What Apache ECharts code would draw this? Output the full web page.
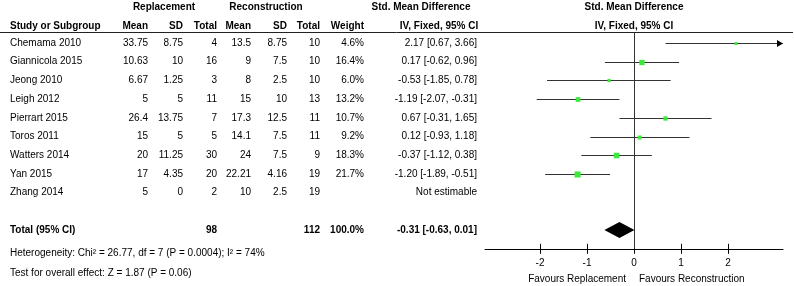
<!DOCTYPE html>
<html><head><meta charset="utf-8">
<script src="https://cdn.jsdelivr.net/npm/echarts@6/dist/echarts.min.js"></script>
<style>html,body{margin:0;padding:0;background:#fff}#c{width:794px;height:286px}</style>
</head><body><div id="c"></div>
<script>
// ---- data ----
const studies = ['Chemama 2010','Giannicola 2015','Jeong 2010','Leigh 2012','Pierrart 2015','Toros 2011','Watters 2014','Yan 2015','Zhang 2014'];
const repMean = [33.75, 10.63, 6.67, 5, 26.4, 15, 20, 17, 5];
const repSD   = [8.75, 10, 1.25, 5, 13.75, 5, 11.25, 4.35, 0];
const repN    = [4, 16, 3, 11, 7, 5, 30, 20, 2];
const recMean = [13.5, 9, 8, 15, 17.3, 14.1, 24, 22.21, 10];
const recSD   = [8.75, 7.5, 2.5, 10, 12.5, 7.5, 7.5, 4.16, 2.5];
const recN    = [10, 10, 10, 13, 11, 11, 9, 19, 19];
const weight  = [4.6, 16.4, 6.0, 13.2, 10.7, 9.2, 18.3, 21.7, null];
const smd     = [2.17, 0.17, -0.53, -1.19, 0.67, 0.12, -0.37, -1.20, null];
const ciLow   = [0.67, -0.62, -1.85, -2.07, -0.31, -0.93, -1.12, -1.89, null];
const ciHigh  = [3.66, 0.96, 0.78, -0.31, 1.65, 1.18, 0.38, -0.51, null];
const totalRepN = 98, totalRecN = 112, totalWeight = 100.0;
const totalSmd = -0.31, totalLow = -0.63, totalHigh = 0.01;
const tickValues = [-2, -1, 0, 1, 2];
const heterogeneityText = 'Heterogeneity: Chi\u00b2 = 26.77, df = 7 (P = 0.0004); I\u00b2 = 74%';
const overallText = 'Test for overall effect: Z = 1.87 (P = 0.06)';

// ---- layout ----
const FONT = '"Liberation Sans", Arial, sans-serif';
const X_MIN = -3.17, X_MAX = 3.17;
const TOTAL_ROW = 10;
const GREEN = '#3be83b';

function f2(v){ return v.toFixed(2); }
function ciText(e,l,h){ return f2(e)+' ['+f2(l)+', '+f2(h)+']'; }

const tableRows = studies.map((s,i)=>({
  row:i, bold:false,
  cells:[s, String(repMean[i]), String(repSD[i]), String(repN[i]), String(recMean[i]), String(recSD[i]), String(recN[i]),
    weight[i]==null ? '' : weight[i].toFixed(1)+'%',
    smd[i]==null ? 'Not estimable' : ciText(smd[i], ciLow[i], ciHigh[i])]
}));
tableRows.push({row:TOTAL_ROW, bold:true,
  cells:['Total (95% CI)','','',String(totalRepN),'','',String(totalRecN), totalWeight.toFixed(1)+'%', ciText(totalSmd,totalLow,totalHigh)]});

const colX = [10,148,183,217,251,287,320,364,477];
const colAlign = ['left','right','right','right','right','right','right','right','right'];

const forestData = [];
studies.forEach((s,i)=>{ if (smd[i]!=null) forestData.push([smd[i], ciLow[i], ciHigh[i], weight[i], i]); });

function txt(t, x, y, align, bold){
  return {type:'text', x:x, y:y, silent:true, style:{text:t, align:align, verticalAlign:'middle',
    font:(bold?'bold ':'')+'10px '+FONT, fill:'#000'}};
}

const chart = echarts.init(document.getElementById('c'));
chart.setOption({
  animation:false,
  grid:{left:485, top:32.3, width:298, height:216.5},
  xAxis:{type:'value', min:X_MIN, max:X_MAX,
    axisLine:{show:true, onZero:false, lineStyle:{color:'#000', width:1}},
    axisTick:{show:false}, splitLine:{show:false},
    axisLabel:{customValues:tickValues, fontFamily:FONT, fontSize:10, color:'#000', margin:9}},
  yAxis:{type:'value', inverse:true, min:-0.57, max:11, show:false},
  graphic:[
    {type:'line', shape:{x1:0, y1:32.5, x2:793, y2:32.5}, style:{stroke:'#222', lineWidth:1}, silent:true},
    txt('Replacement',164,7,'center',true),
    txt('Reconstruction',266,7,'center',true),
    txt('Std. Mean Difference',421,7,'center',true),
    txt('Std. Mean Difference',634,7,'center',true),
    txt('Study or Subgroup',10,26,'left',true),
    txt('Mean',148,26,'right',true),
    txt('SD',183,26,'right',true),
    txt('Total',217,26,'right',true),
    txt('Mean',251,26,'right',true),
    txt('SD',287,26,'right',true),
    txt('Total',320,26,'right',true),
    txt('Weight',364,26,'right',true),
    txt('IV, Fixed, 95% CI',439,26,'center',true),
    txt('IV, Fixed, 95% CI',634,26,'center',true),
    txt(heterogeneityText,10,253,'left',false),
    txt(overallText,10,273,'left',false),
    txt('Favours Replacement',626,279,'right',false),
    txt('Favours Reconstruction',639,279,'left',false)
  ],
  series:[
    { // table text
      type:'custom', silent:true, clip:false,
      data: tableRows.map(r=>[0, r.row]),
      encode:{x:0, y:1},
      renderItem:function(params, api){
        const r = tableRows[params.dataIndex];
        const y = api.coord([0, api.value(1)])[1];
        return {type:'group', children: r.cells.map((t,k)=>t==='' ? null : txt(t, colX[k], y, colAlign[k], r.bold)).filter(Boolean)};
      }
    },
    { // study CIs and squares
      type:'custom', silent:true, clip:false,
      data: forestData,
      encode:{x:[0,1,2], y:4},
      renderItem:function(params, api){
        const cs = params.coordSys;
        const est=api.value(0), l=api.value(1), h=api.value(2), w=api.value(3), r=api.value(4);
        const y = Math.round(api.coord([0,r])[1]) + 0.5;
        const xl = Math.max(api.coord([l,r])[0], cs.x);
        let xh = api.coord([h,r])[0];
        const over = xh > cs.x + cs.width;
        if (over) xh = cs.x + cs.width;
        const children = [{type:'line', shape:{x1:xl, y1:y, x2:xh, y2:y}, style:{stroke:'#333', lineWidth:1}}];
        if (over) children.push({type:'polygon', shape:{points:[[xh-6,y-3.5],[xh,y],[xh-6,y+3.5]]}, style:{fill:'#000'}});
        const s = Math.max(3, 1.3*Math.sqrt(w));
        const xe = api.coord([est,r])[0];
        children.push({type:'rect', shape:{x:xe-s/2, y:y-s/2, width:s, height:s}, style:{fill:GREEN}});
        return {type:'group', children:children};
      },
      markLine:{silent:true, symbol:'none', label:{show:false},
        lineStyle:{color:'#333', width:1, type:'solid'}, data:[{xAxis:0}]}
    },
    { // pooled diamond
      type:'custom', silent:true, clip:false,
      data:[[totalSmd, totalLow, totalHigh, TOTAL_ROW]],
      encode:{x:[0,1,2], y:3},
      renderItem:function(params, api){
        const r = api.value(3);
        const y = api.coord([0,r])[1];
        const xe = api.coord([api.value(0),r])[0];
        const xl = api.coord([api.value(1),r])[0];
        const xh = api.coord([api.value(2),r])[0];
        return {type:'polygon', shape:{points:[[xl,y],[xe,y-8],[xh,y],[xe,y+8]]}, style:{fill:'#000'}};
      }
    },
    { // axis ticks crossing the axis line
      type:'custom', silent:true, clip:false,
      data: tickValues.map(v=>[v]),
      encode:{x:0},
      renderItem:function(params, api){
        const cs = params.coordSys;
        const x = Math.round(api.coord([api.value(0), 0])[0]) + 0.5;
        const yb = cs.y + cs.height;
        return {type:'line', shape:{x1:x, y1:yb-5, x2:x, y2:yb+5}, style:{stroke:'#000', lineWidth:1}};
      }
    }
  ]
});
</script>
</body></html>
